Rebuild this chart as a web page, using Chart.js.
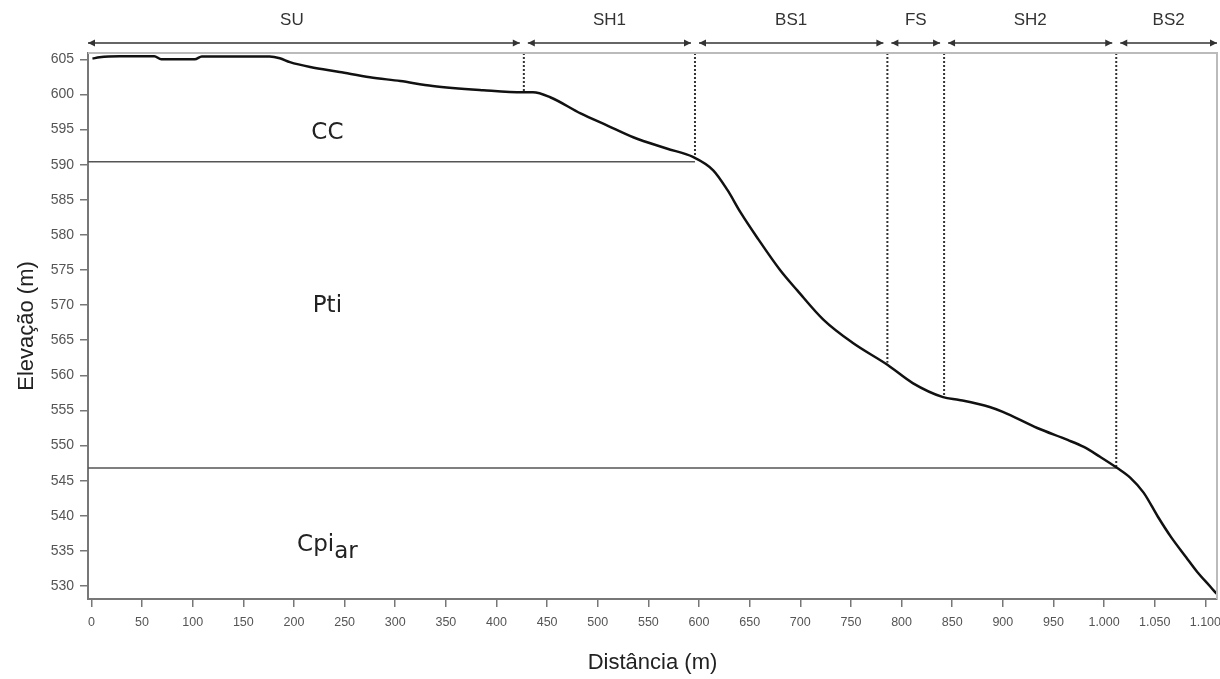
<!DOCTYPE html>
<html lang="pt">
<head>
<meta charset="UTF-8">
<title>Perfil topográfico</title>
<script src="https://cdn.jsdelivr.net/npm/chart.js"></script>
<style>
    body { margin: 0; background: #fff; }
    #wrap { width: 1220px; height: 679px; position: relative; }
</style>
</head>
<body>
<div id="wrap"><canvas id="perfil"></canvas></div>

<script>
// perfil de elevação ao longo da distância (m)
const distancia = [1, 8, 28, 62, 69, 102, 109, 176, 186, 196, 216, 245, 275, 305, 337, 387, 426, 436, 453, 483,
    509, 535, 568, 594, 614, 628, 641, 657, 680, 697, 723, 752, 786, 811, 841, 857, 887, 900, 934, 964,
    980, 996, 1013, 1026, 1039, 1053, 1066, 1081, 1092, 1105, 1111];
const elevacao = [605.1, 605.3, 605.45, 605.45, 605.0, 605.0, 605.4, 605.4, 605.15, 604.6, 603.9, 603.2, 602.45, 601.9, 601.2, 600.6, 600.3, 600.3, 599.6, 597.3,
    595.6, 593.9, 592.3, 591.1, 589.2, 586.4, 583.2, 579.7, 575.0, 572.1, 567.9, 564.6, 561.5, 558.9, 556.9, 556.5, 555.5, 554.8, 552.5, 550.8,
    549.8, 548.4, 546.8, 545.4, 543.3, 539.9, 537.0, 534.1, 532.0, 529.9, 528.9];

// compartimentos do relevo e seus limites
const compartimentos = ['SU', 'SH1', 'BS1', 'FS', 'SH2', 'BS2'];
const limites = [-3.4, 427, 596, 786, 842, 1012, 1111.5];
const cotaLimite = [600.3, 590.9, 561.8, 557.2, 546.8];

// contatos geológicos (elevação, distância final)
const contatoCota = [590.4, 546.8];
const contatoFim = [596, 1012];

// unidades geológicas
const unidades = ['CC', 'Pti', 'Cpi'];
const unidadeSub = ['', '', 'ar'];
const unidadeX = [233, 233, 233];
const unidadeY = [594.5, 569.8, 535.8];

const xMin = -3.4, xMax = 1111.5;
const yMin = 528.15, yMax = 605.9;

const perfil = distancia.map((d, i) => ({ x: d, y: elevacao[i] }));

const datasets = [{
    data: perfil,
    borderColor: '#111',
    borderWidth: 2.5,
    pointRadius: 0,
    cubicInterpolationMode: 'monotone'
}];

contatoCota.forEach((c, i) => {
    datasets.push({
        data: [{ x: xMin, y: c }, { x: contatoFim[i], y: c }],
        borderColor: '#555',
        borderWidth: 1.5,
        pointRadius: 0
    });
});

limites.slice(1, -1).forEach((l, i) => {
    datasets.push({
        data: [{ x: l, y: yMax }, { x: l, y: cotaLimite[i] }],
        borderColor: '#333',
        borderWidth: 2,
        borderDash: [2, 2],
        pointRadius: 0
    });
});

function fmtMilhar(v) {
    if (v >= 1000) return Math.floor(v / 1000) + '.' + String(v % 1000).padStart(3, '0');
    return String(v);
}

// moldura, setas dos compartimentos e nomes das unidades
const anotacoes = {
    id: 'anotacoes',
    afterDatasetsDraw(chart) {
        const { ctx, chartArea, scales } = chart;
        const sx = scales.x, sy = scales.y;
        ctx.save();

        ctx.strokeStyle = '#bbb';
        ctx.lineWidth = 2;
        ctx.beginPath();
        ctx.moveTo(chartArea.left, chartArea.top);
        ctx.lineTo(chartArea.right, chartArea.top);
        ctx.lineTo(chartArea.right, chartArea.bottom);
        ctx.stroke();

        const ya = chartArea.top - 10;
        ctx.strokeStyle = '#333';
        ctx.fillStyle = '#333';
        ctx.lineWidth = 1.5;
        ctx.font = '17px "Liberation Sans", Arial, sans-serif';
        ctx.textAlign = 'center';
        ctx.textBaseline = 'middle';
        compartimentos.forEach((nome, i) => {
            let x1 = sx.getPixelForValue(limites[i]);
            let x2 = sx.getPixelForValue(limites[i + 1]);
            if (i > 0) x1 += 4;
            if (i < compartimentos.length - 1) x2 -= 4;
            ctx.beginPath();
            ctx.moveTo(x1, ya);
            ctx.lineTo(x2, ya);
            ctx.stroke();
            ctx.beginPath();
            ctx.moveTo(x1, ya);
            ctx.lineTo(x1 + 7, ya - 3.5);
            ctx.lineTo(x1 + 7, ya + 3.5);
            ctx.closePath();
            ctx.fill();
            ctx.beginPath();
            ctx.moveTo(x2, ya);
            ctx.lineTo(x2 - 7, ya - 3.5);
            ctx.lineTo(x2 - 7, ya + 3.5);
            ctx.closePath();
            ctx.fill();
            // o rótulo SU fica um pouco à esquerda do centro
            const cx = (x1 + x2) / 2 - (i === 0 ? 12 : 0);
            ctx.fillText(nome, cx, 20);
        });

        ctx.font = '23px "DejaVu Sans", Verdana, sans-serif';
        ctx.fillStyle = '#222';
        unidades.forEach((u, i) => {
            const x = sx.getPixelForValue(unidadeX[i]);
            const y = sy.getPixelForValue(unidadeY[i]);
            if (unidadeSub[i]) {
                const w1 = ctx.measureText(u).width;
                const w2 = ctx.measureText(unidadeSub[i]).width;
                const x0 = x - (w1 + w2) / 2;
                ctx.textAlign = 'left';
                ctx.fillText(u, x0, y);
                ctx.fillText(unidadeSub[i], x0 + w1, y + 7);
                ctx.textAlign = 'center';
            } else {
                ctx.fillText(u, x, y);
            }
        });
        ctx.restore();
    }
};

new Chart(document.getElementById('perfil'), {
    type: 'line',
    data: { datasets },
    options: {
        responsive: true,
        maintainAspectRatio: false,
        animation: false,
        layout: { padding: { top: 53, right: 3, left: 0, bottom: 0 } },
        plugins: { legend: { display: false }, tooltip: { enabled: false } },
        scales: {
            x: {
                type: 'linear',
                min: xMin,
                max: xMax,
                border: { color: '#777', width: 2 },
                grid: { drawOnChartArea: false, tickLength: 8, color: '#777', lineWidth: 1.5 },
                ticks: {
                    stepSize: 50,
                    includeBounds: false,
                    autoSkip: false,
                    maxRotation: 0,
                    padding: 8,
                    color: '#555',
                    font: { family: '"Liberation Sans", Arial, sans-serif', size: 12.5 },
                    callback: v => fmtMilhar(v)
                },
                title: {
                    display: true,
                    text: 'Distância (m)',
                    color: '#222',
                    padding: { top: 0, bottom: 3 },
                    font: { family: '"Liberation Sans", Arial, sans-serif', size: 22 }
                },
                afterFit(scale) {
                    scale.height = 80;
                    scale.paddingLeft = 0;
                    scale.paddingRight = 0;
                }
            },
            y: {
                type: 'linear',
                min: yMin,
                max: yMax,
                border: { color: '#777', width: 2 },
                grid: { drawOnChartArea: false, tickLength: 8, color: '#777', lineWidth: 1.5 },
                ticks: {
                    stepSize: 5,
                    includeBounds: false,
                    padding: 6,
                    color: '#555',
                    font: { family: '"Liberation Sans", Arial, sans-serif', size: 14 }
                },
                title: {
                    display: true,
                    text: 'Elevação (m)',
                    color: '#222',
                    padding: { top: 14, bottom: 0 },
                    font: { family: '"Liberation Sans", Arial, sans-serif', size: 22 }
                },
                afterFit(scale) {
                    scale.width = 88;
                    scale.paddingTop = 0;
                    scale.paddingBottom = 0;
                }
            }
        }
    },
    plugins: [anotacoes]
});
</script>
</body>
</html>
